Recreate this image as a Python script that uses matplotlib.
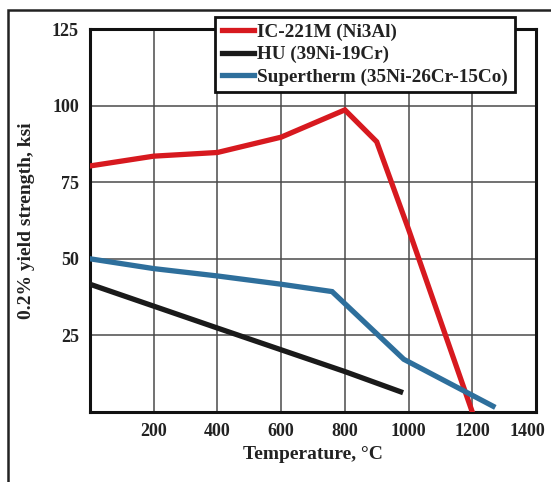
import matplotlib
matplotlib.use('Agg')
import matplotlib.pyplot as plt
import matplotlib.transforms as mtransforms
from matplotlib.patches import Rectangle

plt.rcParams['font.family'] = ['Liberation Serif', 'DejaVu Serif']

# IC-221M (Ni3Al)
ic_t = [0, 200, 400, 600, 800, 900, 1000, 1200]
ic_ys = [80.3, 83.5, 84.7, 89.7, 98.6, 88.2, 59.6, 0]
# HU (39Ni-19Cr)
hu_t = [0, 400, 800, 975]
hu_ys = [41.7, 27.4, 13.2, 6.6]
# Supertherm (35Ni-26Cr-15Co)
st_t = [0, 200, 400, 600, 760, 985, 1265]
st_ys = [50.0, 46.8, 44.4, 41.7, 39.3, 17.2, 1.9]

x_ticks = [200, 400, 600, 800, 1000, 1200, 1400]
y_ticks = [25, 50, 75, 100, 125]

fig = plt.figure(figsize=(5.51, 4.82), dpi=100)
ax = fig.add_axes([90 / 551, 1 - 412 / 482, 446 / 551, 383 / 482])

ax.plot(ic_t, ic_ys, color='#d7191f', lw=3.8, solid_joinstyle='miter', label='IC-221M (Ni3Al)', zorder=3)
ax.plot(hu_t, hu_ys, color='#1a1a1a', lw=3.8, solid_joinstyle='miter', label='HU (39Ni-19Cr)', zorder=3)
ax.plot(st_t, st_ys, color='#2e6f9c', lw=3.8, solid_joinstyle='miter', label='Supertherm (35Ni-26Cr-15Co)', zorder=3)

ax.set_xlim(0, 1400)
ax.set_ylim(0, 125)
ax.set_xticks(x_ticks)
ax.set_yticks(y_ticks)
ax.grid(True, color='#4a4a4a', lw=1.1)
ax.tick_params(length=0, labelsize=13, pad=8)
for lab in ax.get_xticklabels() + ax.get_yticklabels():
    lab.set_fontweight('bold')
    lab.set_color('#222222')
# last label sits a bit left so it stays inside the picture
last = ax.get_xticklabels()[-1]
last.set_transform(last.get_transform() + mtransforms.ScaledTranslation(-0.09, 0, fig.dpi_scale_trans))
for s in ax.spines.values():
    s.set_linewidth(2.2)
    s.set_color('#111111')

ax.set_xlabel('Temperature, °C', fontsize=14, fontweight='bold', color='#222222', labelpad=4)
ax.set_ylabel('0.2% yield strength, ksi', fontsize=14, fontweight='bold', color='#222222', labelpad=12)

leg = fig.legend(loc='upper left', bbox_to_anchor=(215 / 551, 1 - 17 / 482), bbox_transform=fig.transFigure,
                 fancybox=False, framealpha=1, edgecolor='#111111', handlelength=1.7, handletextpad=0.15,
                 borderpad=0.35, labelspacing=0.25, borderaxespad=0,
                 prop={'family': 'Liberation Serif', 'weight': 'bold', 'size': 13.8})
leg.get_frame().set_linewidth(2)
for t in leg.get_texts():
    t.set_color('#222222')

# outer frame, cropped at right and bottom
fig.patches.append(Rectangle((8 / 551, -0.1), 1.2, 1 - 10 / 482 + 0.1, transform=fig.transFigure,
                             fill=False, edgecolor='#222222', lw=1.8, clip_on=False))

fig.savefig('out.png', dpi=100)
